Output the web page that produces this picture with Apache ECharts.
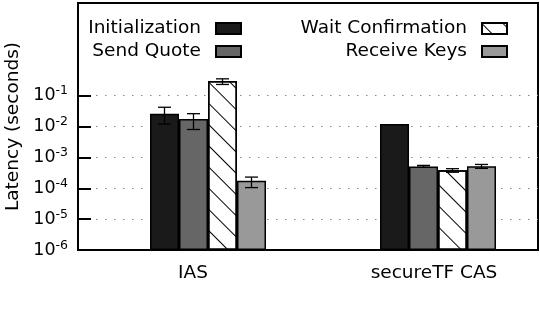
<!DOCTYPE html>
<html>
<head>
<meta charset="utf-8">
<script src="https://cdn.jsdelivr.net/npm/echarts@6/dist/echarts.min.js"></script>
<style>html,body{margin:0;padding:0;background:#fff}#c{width:540px;height:318px}</style>
</head>
<body>
<div id="c"></div>
<script>
// ---- data ----
const categories = ['IAS', 'secureTF CAS'];
const seriesNames = ['Initialization', 'Send Quote', 'Wait Confirmation', 'Receive Keys'];
const initialization = [0.026, 0.012];
const sendQuote = [0.0174, 0.00051];
const waitConfirmation = [0.295, 0.00038];
const receiveKeys = [0.000174, 0.00052];
// error ranges [low, high] per category
const initializationErr = [[0.012, 0.042], null];
const sendQuoteErr = [[0.008, 0.026], [0.00048, 0.00055]];
const waitConfirmationErr = [[0.23, 0.35], [0.00033, 0.00043]];
const receiveKeysErr = [[0.000105, 0.00023], [0.00044, 0.00059]];
const yTickValues = [1e-6, 1e-5, 1e-4, 1e-3, 1e-2, 1e-1];

// ---- styling / layout ----
const FONT = 'DejaVu Sans';
const BAR_W = 29, SPACER_W = 30;
const values = [initialization, sendQuote, waitConfirmation, receiveKeys];
const errs = [initializationErr, sendQuoteErr, waitConfirmationErr, receiveKeysErr];
const fills = ['#1a1a1a', '#666666', '#ffffff', '#999999'];

const hatch = {
  symbol: 'rect', symbolSize: 1, color: '#000',
  dashArrayX: [1, 0], dashArrayY: [1, 13.2], rotation: Math.PI / 4
};

const barSeries = values.map((v, j) => ({
  name: seriesNames[j], type: 'bar', data: v, barWidth: BAR_W, barGap: 0,
  itemStyle: Object.assign({ color: fills[j], borderColor: '#000', borderWidth: 1.5 },
    j === 2 ? { decal: hatch } : {}),
  emphasis: { disabled: true }, z: 2
}));

const spacer = { name: '__spacer', type: 'bar', data: categories.map(() => '-'), barWidth: SPACER_W, barGap: 0, silent: true };

const errData = [];
errs.forEach((arr, j) => arr.forEach((e, i) => { if (e) errData.push([i, j, e[0], e[1]]); }));

const clusterW = SPACER_W + 4 * BAR_W;
const errSeries = {
  type: 'custom', data: errData, encode: { x: 0, y: [2, 3] }, z: 5, silent: true,
  renderItem: function (params, api) {
    const ci = api.value(0), j = api.value(1);
    const cx = api.coord([ci, 1e-3])[0] - clusterW / 2 + SPACER_W + BAR_W * (j + 0.5);
    const yl = api.coord([ci, api.value(2)])[1];
    const yh = api.coord([ci, api.value(3)])[1];
    const cap = 6.5;
    const st = { stroke: '#000', lineWidth: 1.3 };
    return { type: 'group', children: [
      { type: 'line', shape: { x1: cx, y1: yl, x2: cx, y2: yh }, style: st },
      { type: 'line', shape: { x1: cx - cap, y1: yl, x2: cx + cap, y2: yl }, style: st },
      { type: 'line', shape: { x1: cx - cap, y1: yh, x2: cx + cap, y2: yh }, style: st }
    ] };
  }
};

const legendCommon = {
  orient: 'vertical', align: 'right', itemWidth: 25, itemHeight: 11, itemGap: 4,
  padding: 0,
  textStyle: { fontFamily: FONT, fontSize: 18.5, color: '#000', padding: [0, 10, 0, 0] },
  icon: 'rect', selectedMode: false
};

const chart = echarts.init(document.getElementById('c'), null, { renderer: 'canvas' });
chart.setOption({
  animation: false,
  backgroundColor: '#fff',
  textStyle: { fontFamily: FONT },
  grid: { left: 78, right: 2, top: 3, bottom: 68, show: true, borderColor: '#000', borderWidth: 2,
    backgroundColor: 'transparent', containLabel: false, outerBoundsMode: 'none' },
  legend: [
    Object.assign({}, legendCommon, { data: seriesNames.slice(0, 2), right: 298, top: 19 }),
    Object.assign({}, legendCommon, { data: seriesNames.slice(2, 4), right: 32, top: 19 })
  ],
  xAxis: {
    type: 'category', data: categories,
    axisLine: { lineStyle: { color: '#000', width: 2 } },
    axisTick: { show: false },
    axisLabel: {
      fontFamily: FONT, fontSize: 18.5, color: '#000', margin: 14,
      formatter: (v, i) => i === 1 ? '{r|' + v + '}' : v,
      rich: { r: { fontFamily: FONT, fontSize: 18.5, color: '#000', padding: [0, 0, 0, 22] } }
    },
    splitLine: { show: false }
  },
  yAxis: {
    type: 'log', logBase: 10, min: 1e-6, max: 100, interval: 1, startValue: 1e-6,
    name: 'Latency (seconds)', nameLocation: 'middle', nameGap: 51,
    nameTextStyle: { fontFamily: FONT, fontSize: 18.5, color: '#000' },
    axisLine: { show: true, lineStyle: { color: '#000', width: 2 } },
    axisTick: { show: true, inside: true, length: 13, customValues: yTickValues, lineStyle: { color: '#000', width: 2 } },
    minorTick: { show: false },
    axisLabel: {
      customValues: yTickValues, margin: 10, color: '#000',
      formatter: v => '{b|10}{s|' + Math.round(Math.log10(v)) + '}',
      rich: {
        b: { fontFamily: FONT, fontSize: 17.5, color: '#000', lineHeight: 22 },
        s: { fontFamily: FONT, fontSize: 12.5, color: '#000', verticalAlign: 'top', lineHeight: 14 }
      }
    },
    splitLine: { show: true, lineStyle: { type: [1.5, 7.5], width: 1.2,
      color: ['rgba(0,0,0,0)', '#888', '#888', '#888', '#888', '#888', 'rgba(0,0,0,0)', 'rgba(0,0,0,0)', 'rgba(0,0,0,0)'] } }
  },
  series: [spacer].concat(barSeries, [errSeries])
});
</script>
</body>
</html>
